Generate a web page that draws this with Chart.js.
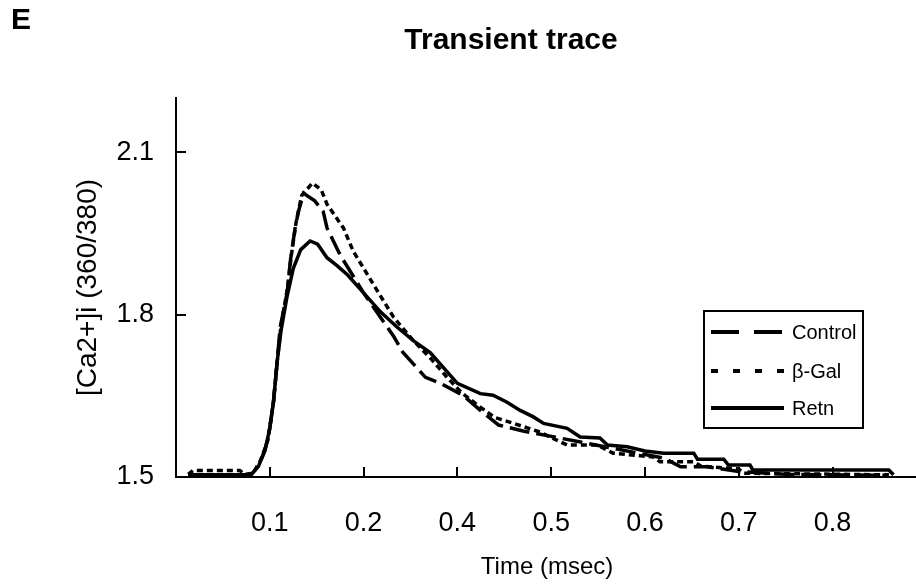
<!DOCTYPE html>
<html>
<head>
<meta charset="utf-8">
<script src="https://cdn.jsdelivr.net/npm/chart.js@4.4.1/dist/chart.umd.min.js"></script>
<style>
  html, body { margin: 0; padding: 0; background: #fff; }
  #wrap { width: 916px; height: 588px; }
</style>
</head>
<body>
<div id="wrap"><canvas id="transientChart" width="916" height="588"></canvas></div>
<script>
// x values are positions along the axis, one tick every 0.1 (the printed labels skip 0.3)
const xTickPos = [0.1, 0.2, 0.3, 0.4, 0.5, 0.6, 0.7];
const xTickLabels = ["0.1", "0.2", "0.4", "0.5", "0.6", "0.7", "0.8"];
const yTicks = [1.5, 1.8, 2.1];

const controlX = [0.013, 0.08, 0.088, 0.095, 0.1, 0.104, 0.108, 0.111, 0.1185, 0.122, 0.127, 0.1305, 0.136, 0.148, 0.157, 0.161, 0.175, 0.2, 0.232, 0.242, 0.266, 0.282, 0.306, 0.3245, 0.344, 0.37, 0.4, 0.43, 0.46, 0.49, 0.52, 0.538, 0.566, 0.6, 0.65, 0.76];
const controlY = [1.504, 1.504, 1.52, 1.55, 1.59, 1.64, 1.715, 1.776, 1.84, 1.9, 1.96, 1.99, 2.024, 2.01, 1.99, 1.96, 1.91, 1.84, 1.76, 1.73, 1.684, 1.673, 1.651, 1.623, 1.596, 1.585, 1.575, 1.565, 1.555, 1.545, 1.535, 1.519, 1.519, 1.51, 1.505, 1.503];

const bgalX = [0.013, 0.018, 0.068, 0.073, 0.082, 0.09, 0.098, 0.104, 0.108, 0.112, 0.119, 0.123, 0.128, 0.134, 0.1455, 0.155, 0.161, 0.1785, 0.189, 0.21, 0.232, 0.253, 0.271, 0.289, 0.305, 0.3245, 0.34, 0.36, 0.388, 0.417, 0.449, 0.466, 0.509, 0.516, 0.552, 0.56, 0.6, 0.605, 0.76];
const bgalY = [1.505, 1.512, 1.512, 1.505, 1.507, 1.53, 1.568, 1.64, 1.715, 1.78, 1.85, 1.91, 1.97, 2.02, 2.043, 2.03, 2.004, 1.96, 1.917, 1.857, 1.795, 1.752, 1.72, 1.684, 1.655, 1.629, 1.61, 1.599, 1.583, 1.559, 1.559, 1.544, 1.537, 1.528, 1.528, 1.52, 1.515, 1.507, 1.504];

const retnX = [0.013, 0.08, 0.088, 0.095, 0.1, 0.104, 0.108, 0.112, 0.118, 0.125, 0.133, 0.143, 0.151, 0.161, 0.172, 0.183, 0.2, 0.218, 0.235, 0.253, 0.271, 0.3, 0.3245, 0.338, 0.353, 0.367, 0.381, 0.392, 0.417, 0.431, 0.452, 0.46, 0.481, 0.5, 0.52, 0.552, 0.556, 0.584, 0.589, 0.612, 0.615, 0.76, 0.765];
const retnY = [1.504, 1.504, 1.52, 1.55, 1.59, 1.64, 1.715, 1.77, 1.83, 1.885, 1.92, 1.936, 1.93, 1.905, 1.89, 1.873, 1.84, 1.805, 1.778, 1.752, 1.73, 1.673, 1.654, 1.651, 1.638, 1.623, 1.611, 1.599, 1.59, 1.574, 1.572, 1.559, 1.556, 1.548, 1.544, 1.544, 1.533, 1.533, 1.522, 1.522, 1.513, 1.513, 1.504];

const seriesNames = ["Control", "β-Gal", "Retn"];

const FONT = "'Liberation Sans', Arial, sans-serif";

function toPoints(xs, ys) {
  return xs.map((x, i) => ({ x: x, y: ys[i] }));
}

// plot dash patterns and legend dash patterns differ in the original
const plotDash = [[20, 7], [6, 4], []];
const legendDash = [[28, 15], [7, 15], []];

const extraText = {
  id: "extraText",
  afterDraw(chart) {
    const ctx = chart.ctx;
    ctx.save();
    ctx.fillStyle = "#000";
    ctx.textBaseline = "alphabetic";

    ctx.font = "bold 30px " + FONT;
    ctx.textAlign = "left";
    ctx.fillText("E", 11, 29);

    ctx.textAlign = "center";
    ctx.fillText("Transient trace", 511, 49);

    ctx.font = "24px " + FONT;
    ctx.fillText("Time (msec)", 547, 574);

    // legend box
    ctx.strokeStyle = "#000";
    ctx.lineWidth = 2;
    ctx.strokeRect(704, 311, 159, 117);

    ctx.font = "20px " + FONT;
    ctx.textAlign = "left";
    ctx.textBaseline = "middle";
    const rows = [332, 371, 408];
    seriesNames.forEach((name, i) => {
      ctx.lineWidth = 4;
      ctx.setLineDash(legendDash[i]);
      ctx.beginPath();
      ctx.moveTo(711, rows[i]);
      ctx.lineTo(784, rows[i]);
      ctx.stroke();
      ctx.setLineDash([]);
      ctx.fillText(name, 792, rows[i] + 1);
    });
    ctx.restore();
  },
};

const ctx = document.getElementById("transientChart").getContext("2d");
const transientChart = new Chart(ctx, {
  type: "line",
  data: {
    datasets: [
      { label: seriesNames[0], data: toPoints(controlX, controlY), borderDash: plotDash[0] },
      { label: seriesNames[1], data: toPoints(bgalX, bgalY), borderDash: plotDash[1] },
      { label: seriesNames[2], data: toPoints(retnX, retnY), borderDash: plotDash[2] },
    ].map((d) => Object.assign(d, {
      borderColor: "#000",
      backgroundColor: "#000",
      borderWidth: 3.5,
      pointRadius: 0,
      tension: 0,
      fill: false,
    })),
  },
  options: {
    responsive: false,
    animation: false,
    devicePixelRatio: 1,
    layout: { padding: { top: 98, right: 0, bottom: 0, left: 0 } },
    plugins: {
      legend: { display: false },
      title: { display: false },
      tooltip: { enabled: false },
    },
    scales: {
      x: {
        type: "linear",
        min: 0,
        max: 0.789,
        border: { display: true, color: "#000", width: 2 },
        grid: { drawOnChartArea: false, drawTicks: true, tickLength: -10, color: "#000", lineWidth: 2 },
        afterBuildTicks: (s) => { s.ticks = xTickPos.map((v) => ({ value: v })); },
        ticks: {
          color: "#000",
          font: { family: FONT, size: 27 },
          padding: 40,
          maxRotation: 0,
          autoSkip: false,
          callback: (v) => {
            const i = xTickPos.findIndex((p) => Math.abs(p - v) < 1e-6);
            return i >= 0 ? xTickLabels[i] : "";
          },
        },
        afterFit: (s) => { s.height = 111; },
      },
      y: {
        type: "linear",
        min: 1.5,
        max: 2.2,
        border: { display: true, color: "#000", width: 2 },
        grid: { drawOnChartArea: false, drawTicks: true, tickLength: -10, color: "#000", lineWidth: 2 },
        afterBuildTicks: (s) => { s.ticks = yTicks.map((v) => ({ value: v })); },
        ticks: {
          color: "#000",
          font: { family: FONT, size: 27 },
          padding: 32,
          callback: (v) => v.toFixed(1),
        },
        title: {
          display: true,
          text: "[Ca2+]i (360/380)",
          color: "#000",
          font: { family: FONT, size: 28 },
          padding: { top: 71, bottom: 0 },
        },
        afterFit: (s) => { s.width = 176; },
      },
    },
  },
  plugins: [extraText],
});
</script>
</body>
</html>
